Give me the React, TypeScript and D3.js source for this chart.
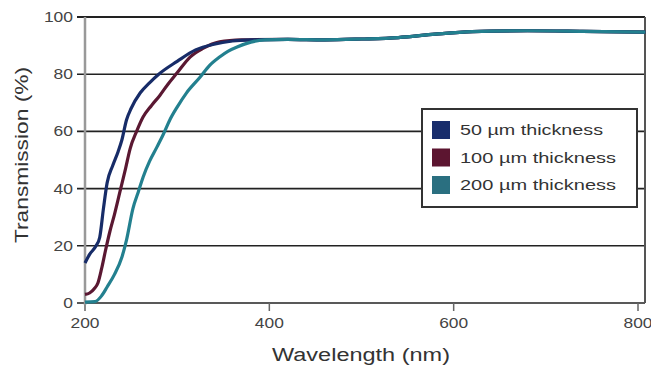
import * as d3 from "d3";

// [wavelength nm, transmission %]
const series50: [number, number][] = [
  [200, 14], [205, 17], [212, 20], [216, 23], [220, 33], [224, 42], [230, 48],
  [236, 53], [240, 57], [245, 64], [250, 68], [260, 73.5], [270, 77], [280, 80],
  [300, 84.5], [320, 88.5], [340, 90.5], [360, 91.6], [380, 92], [420, 92.2],
  [460, 92], [500, 92.3], [540, 92.8], [580, 94], [620, 94.9], [680, 95.2],
  [740, 95], [808, 94.7],
];
const series100: [number, number][] = [
  [200, 3], [205, 3.5], [210, 5], [214, 7], [218, 12], [222, 18], [227, 25],
  [232, 31], [238, 39], [244, 47], [249, 54], [256, 60], [263, 65], [272, 69],
  [281, 72.5], [290, 76.5], [300, 80.5], [314, 86], [328, 89], [346, 91.3],
  [370, 92], [420, 92.2], [460, 92], [500, 92.3], [540, 92.8], [580, 94],
  [620, 94.9], [680, 95.2], [740, 95], [808, 94.7],
];
const series200: [number, number][] = [
  [200, 0.3], [211, 0.5], [218, 2.5], [224, 5.6], [232, 10], [240, 16],
  [245, 22], [252, 33], [258, 39], [263, 44], [270, 49.5], [278, 54.5],
  [285, 59], [292, 64], [300, 68.5], [310, 73.4], [325, 79], [335, 83],
  [346, 86], [355, 88], [365, 89.5], [380, 91.2], [395, 92], [420, 92.2],
  [460, 92], [500, 92.3], [540, 92.8], [580, 94], [620, 94.9], [680, 95.2],
  [740, 95], [808, 94.7],
];

const legendLabels = ["50 µm thickness", "100 µm thickness", "200 µm thickness"];
const lineColors = ["#172c68", "#5a1832", "#23808f"];
const swatchColors = ["#182d6c", "#5c1530", "#2a6f80"];
const xTicks = [200, 400, 600, 800];
const yTicks = [0, 20, 40, 60, 80, 100];

const W = 651;
const H = 370;
const left = 85;
const right = 645;
const top = 17;
const bottom = 303;

export default function App() {
  const x = d3.scaleLinear().domain([200, 800]).range([left, 638]);
  const y = d3.scaleLinear().domain([0, 100]).range([bottom, top]);

  const line = d3
    .line<[number, number]>()
    .x((d) => x(d[0]))
    .y((d) => y(d[1]))
    .curve(d3.curveMonotoneX);

  const all = [series50, series100, series200];
  const drawOrder = [1, 0, 2];

  const font = "'Liberation Sans', Arial, sans-serif";

  return (
    <svg
      width={W}
      height={H}
      style={{ position: "absolute", left: 0, top: 0, background: "#fff" }}
      fontFamily={font}
    >
      {/* grid lines */}
      {yTicks.map((t) => (
        <g key={t}>
          <line x1={77} x2={right} y1={y(t)} y2={y(t)} stroke="#222" strokeWidth={t === 100 ? 2 : 1.6} />
          <text
            x={73}
            y={y(t) + 5}
            textAnchor="end"
            fontSize={14}
            fill="#444"
            textLength={String(t).length * 9.7}
            lengthAdjust="spacingAndGlyphs"
          >
            {t}
          </text>
        </g>
      ))}

      {/* x ticks */}
      {xTicks.map((t) => (
        <g key={t}>
          <line x1={x(t)} x2={x(t)} y1={bottom} y2={bottom + 8} stroke="#666" strokeWidth={1.5} />
          <text
            x={x(t)}
            y={328}
            textAnchor="middle"
            fontSize={15}
            fill="#444"
            textLength={29}
            lengthAdjust="spacingAndGlyphs"
          >
            {t}
          </text>
        </g>
      ))}

      {/* frame */}
      <line x1={right} x2={right} y1={top} y2={bottom} stroke="#555" strokeWidth={2} />
      <line x1={left} x2={left} y1={top} y2={bottom + 2} stroke="#999" strokeWidth={2.5} />

      {/* curves */}
      {drawOrder.map((i) => (
        <path
          key={i}
          d={line(all[i]) ?? ""}
          fill="none"
          stroke={lineColors[i]}
          strokeWidth={3.2}
          strokeLinejoin="round"
        />
      ))}

      {/* legend */}
      <rect x={422} y={109} width={215} height={98} fill="#fff" stroke="#333" strokeWidth={2} />
      {legendLabels.map((lab, i) => (
        <g key={lab}>
          <rect x={432} y={121 + i * 27.5} width={18} height={18} fill={swatchColors[i]} />
          <text
            x={460}
            y={135 + i * 27.5}
            fontSize={15}
            fill="#333"
            textLength={i === 0 ? 143 : 156}
            lengthAdjust="spacingAndGlyphs"
          >
            {lab}
          </text>
        </g>
      ))}

      {/* axis titles */}
      <text
        x={361}
        y={361}
        textAnchor="middle"
        fontSize={18}
        fill="#333"
        textLength={178}
        lengthAdjust="spacingAndGlyphs"
      >
        Wavelength (nm)
      </text>
      <text
        transform="translate(28,155) rotate(-90)"
        textAnchor="middle"
        fontSize={18}
        fill="#333"
        textLength={176}
        lengthAdjust="spacingAndGlyphs"
      >
        Transmission (%)
      </text>
    </svg>
  );
}
